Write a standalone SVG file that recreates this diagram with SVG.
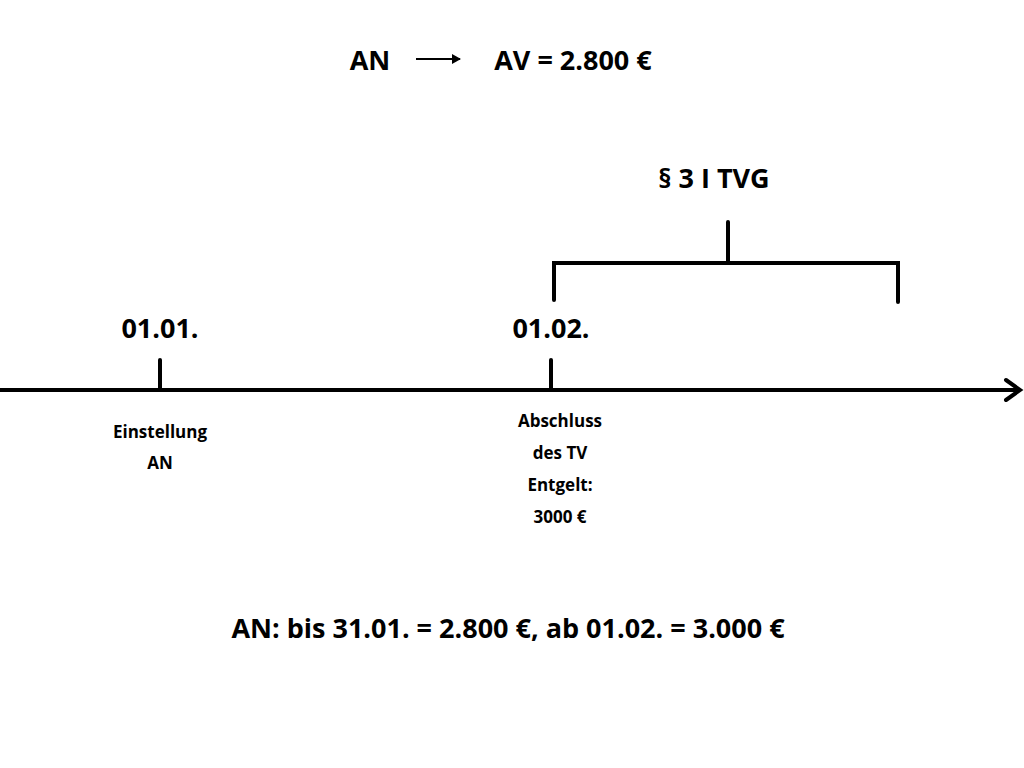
<svg xmlns="http://www.w3.org/2000/svg" width="1024" height="768" viewBox="0 0 1024 768">
<style>
text{font-family:"Open Sans","Liberation Sans",sans-serif;font-weight:bold;fill:#000;text-anchor:middle}
.b{font-size:27px}.s{font-size:17px}
.l{stroke:#000;stroke-width:4;fill:none;stroke-linecap:round}
</style>
<defs><marker id="a" markerWidth="10" markerHeight="10" refX="8" refY="5" orient="auto" markerUnits="userSpaceOnUse"><path d="M0,0 L9,5 L0,10" fill="#000"/></marker></defs>
<rect width="1024" height="768" fill="#fff"/>
<g id="title"><text class="b" x="370" y="70">AN</text><text class="b" x="573" y="70">AV = 2.800 €</text></g>
<g id="tvg"><text class="b" x="714" y="188">§ 3 I TVG</text></g>
<g id="d1"><text class="b" x="160" y="338">01.01.</text><text class="s" x="160" y="438">Einstellung</text><text class="s" x="160" y="469">AN</text></g>
<g id="d2"><text class="b" x="551" y="338">01.02.</text><text class="s" x="560" y="427">Abschluss</text><text class="s" x="560" y="459">des TV</text><text class="s" x="560" y="491">Entgelt:</text><text class="s" x="560" y="523">3000 €</text></g>
<g id="bottom"><text class="b" x="508" y="638">AN: bis 31.01. = 2.800 €, ab 01.02. = 3.000 €</text></g>
<g id="connectors">
<line x1="416" y1="59" x2="460" y2="59" stroke="#000" stroke-width="2" marker-end="url(#a)"/>
<line class="l" x1="0" y1="390" x2="1018" y2="390"/>
<path class="l" d="M1006,380 L1020,390 L1006,400"/>
<line class="l" x1="160" y1="360" x2="160" y2="390"/>
<line class="l" x1="551" y1="360" x2="551" y2="390"/>
<path class="l" d="M554,300 L554,263 L898,263 L898,302 M728,263 L728,222"/>
</g>
</svg>
